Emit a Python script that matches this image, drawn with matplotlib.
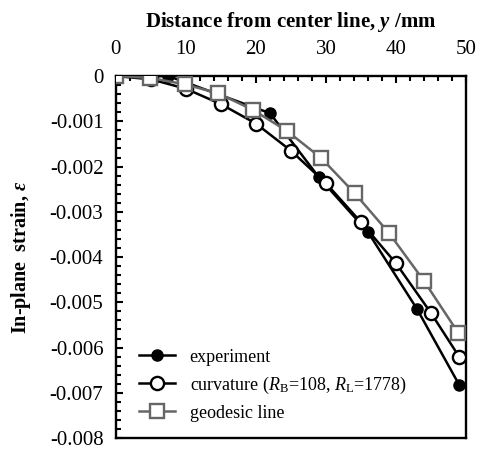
import numpy as np
import matplotlib
matplotlib.use("Agg")
import matplotlib.pyplot as plt
from matplotlib.ticker import MultipleLocator, FuncFormatter

plt.rcParams['font.family'] = ['Liberation Serif', 'DejaVu Serif']
plt.rcParams['mathtext.fontset'] = 'custom'
plt.rcParams['mathtext.rm'] = 'Liberation Serif'
plt.rcParams['mathtext.it'] = 'Liberation Serif:italic'
plt.rcParams['mathtext.bf'] = 'Liberation Serif:italic:bold'
plt.rcParams['axes.unicode_minus'] = False

# experiment (filled circles)
exp_y = [0, 7.5, 22, 29, 36, 43, 49]
exp_eps = [0, 0.0, -0.00082, -0.00224, -0.00345, -0.00515, -0.00682]

# curvature model
curv_y = [0, 5, 10, 15, 20, 25, 30, 35, 40, 45, 49]
curv_eps = [0, -0.00007, -0.00028, -0.00062, -0.00105, -0.00165, -0.00237,
            -0.00323, -0.00414, -0.00524, -0.0062]

# geodesic line
geo_y = [0, 4.9, 9.8, 14.6, 19.6, 24.4, 29.3, 34.1, 39, 44, 48.9]
geo_eps = [0, -0.00004, -0.00018, -0.00038, -0.00075, -0.00121, -0.00181,
           -0.00259, -0.00347, -0.00453, -0.00568]

fig = plt.figure(figsize=(4.83, 4.53), dpi=100)
ax = fig.add_axes([0.240, 0.033, 0.725, 0.799])

ax.plot(exp_y, exp_eps, color='black', lw=1.8, marker='o', ms=8,
        mfc='black', mec='black', label='experiment', zorder=3)
ax.plot(curv_y, curv_eps, color='black', lw=1.8, marker='o', ms=9.5,
        mfc='white', mec='black', mew=1.7,
        label=r'curvature ($R_\mathrm{B}$=108, $R_\mathrm{L}$=1778)', zorder=4)
ax.plot(geo_y, geo_eps, color='#666666', lw=1.8, marker='s', ms=10,
        mfc='white', mec='#666666', mew=1.7, label='geodesic line', zorder=5)

ax.set_xlim(0, 50)
ax.set_ylim(-0.008, 0)
ax.xaxis.tick_top()
ax.xaxis.set_label_position('top')
ax.xaxis.set_major_locator(MultipleLocator(10))
ax.xaxis.set_minor_locator(MultipleLocator(2))
ax.yaxis.set_major_locator(MultipleLocator(0.001))
ax.yaxis.set_minor_locator(MultipleLocator(0.0002))
ax.yaxis.set_major_formatter(FuncFormatter(lambda v, p: f"{round(v, 4):g}"))

ax.tick_params(which='both', direction='in', width=1.5, labelsize=15)
ax.tick_params(which='major', length=5)
ax.tick_params(which='minor', length=3.5)
ax.tick_params(axis='x', pad=12)
ax.tick_params(axis='y', pad=9)
for s in ax.spines.values():
    s.set_linewidth(1.7)

ax.set_xlabel(r'Distance from center line, $\mathbf{y}$ /mm',
              fontsize=15, fontweight='bold', labelpad=10)
ax.set_ylabel(r'In-plane  strain, $\mathbf{ε}$',
              fontsize=14.5, fontweight='bold', labelpad=12)

ax.legend(loc='lower left', bbox_to_anchor=(0.02, 0.0), frameon=False,
          fontsize=13, handlelength=2.0, handletextpad=0.8, labelspacing=0.5)

fig.savefig('out.png', dpi=100)
